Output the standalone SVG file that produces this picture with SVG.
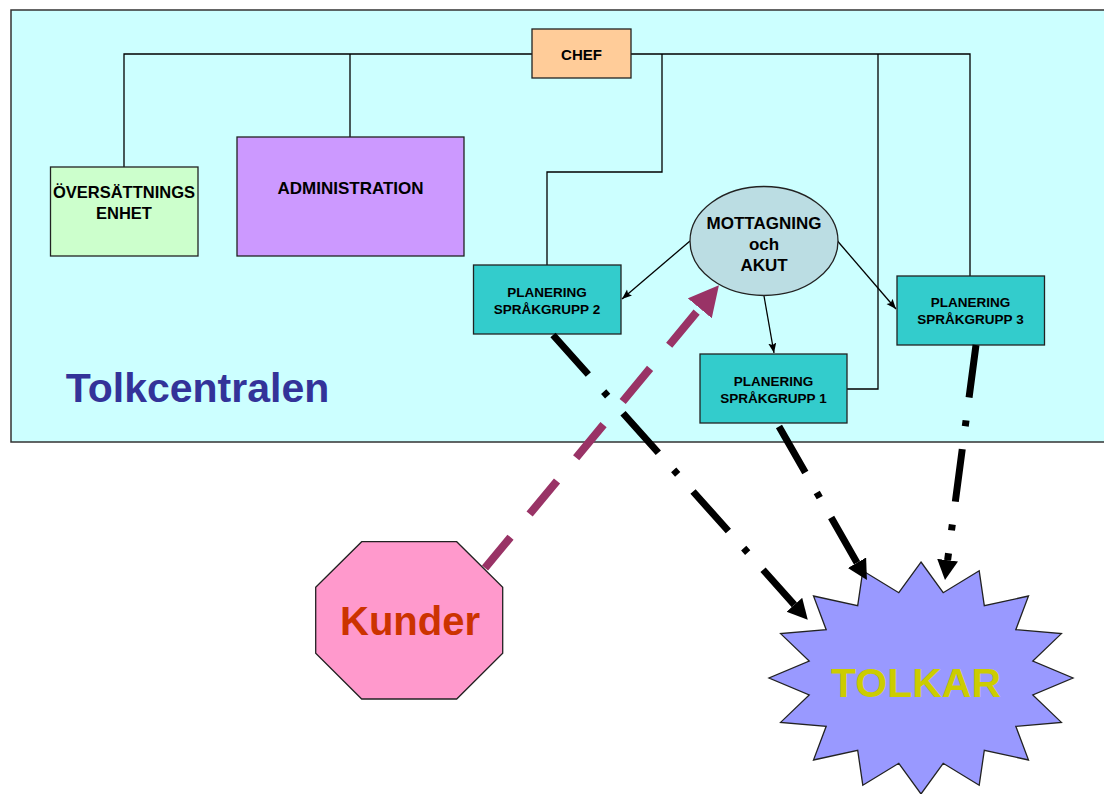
<svg xmlns="http://www.w3.org/2000/svg" width="1104" height="794" viewBox="0 0 1104 794">
<style>
text{font-family:"Liberation Sans",Arial,sans-serif;font-weight:bold;text-anchor:middle;fill:#000}
.box{stroke:#222;stroke-width:1.3}
.org{fill:none;stroke:#000;stroke-width:1.3}
.thin{fill:none;stroke:#000;stroke-width:1.3}
.dd{fill:none;stroke:#000;stroke-width:7;stroke-dasharray:53 23 6 23}
.sg{fill:#33CCCC}
.sgt{font-size:13.5px}
</style>
<defs>
<marker id="ah" markerUnits="userSpaceOnUse" markerWidth="11" markerHeight="9" refX="10" refY="4" orient="auto"><path d="M0,0 L10,4 L0,8 L2,4 z" fill="#000"/></marker>
<marker id="big" markerUnits="userSpaceOnUse" markerWidth="21" markerHeight="22" refX="0" refY="10.5" orient="auto"><path d="M0,0 L20,10.5 L0,21 z" fill="#000"/></marker>
<marker id="mag" markerUnits="userSpaceOnUse" markerWidth="31" markerHeight="32" refX="0" refY="15.5" orient="auto"><path d="M0,0 L30,15.5 L0,31 z" fill="#993366"/></marker>
</defs>
<rect width="1104" height="794" fill="#fff"/>
<g id="tolkcentralen">
<rect x="11" y="10" width="1100" height="432" fill="#CCFFFF" stroke="#333" stroke-width="1.5"/>
<text x="197.5" y="402" style="font-size:41px;fill:#333399">Tolkcentralen</text>
</g>
<g id="connectors">
<path class="org" d="M124,167 V54 H532"/>
<path class="org" d="M350,137 V54"/>
<path class="org" d="M631,54 H970 V276"/>
<path class="org" d="M662,54 V172 H547 V265"/>
<path class="org" d="M878,54 V389 H847"/>
<path class="thin" d="M690,241 L622,299" marker-end="url(#ah)"/>
<path class="thin" d="M764,296 L774,353" marker-end="url(#ah)"/>
<path class="thin" d="M837.5,241 L896,309" marker-end="url(#ah)"/>
</g>
<g id="chef"><rect class="box" x="532" y="29" width="99" height="49" fill="#FFCC99"/><text x="581.5" y="59.5" style="font-size:15px">CHEF</text></g>
<g id="oversattning"><rect class="box" x="50.5" y="167" width="147.5" height="89" fill="#CCFFCC"/><text x="124" y="198" style="font-size:16.5px">ÖVERSÄTTNINGS</text><text x="124" y="219" style="font-size:16.5px">ENHET</text></g>
<g id="administration"><rect class="box" x="237" y="137" width="227" height="119" fill="#CC99FF"/><text x="350.5" y="194" style="font-size:17px">ADMINISTRATION</text></g>
<g id="mottagning"><ellipse class="box" cx="764" cy="241" rx="74" ry="54.5" fill="#BBDDE3"/><text x="764" y="229" style="font-size:17px">MOTTAGNING</text><text x="764" y="250" style="font-size:17px">och</text><text x="764" y="271" style="font-size:17px">AKUT</text></g>
<g id="sg2"><rect class="box sg" x="473.5" y="265" width="147.5" height="69"/><text class="sgt" x="547" y="296.5">PLANERING</text><text class="sgt" x="547" y="313.5">SPRÅKGRUPP 2</text></g>
<g id="sg1"><rect class="box sg" x="700" y="354" width="147" height="69"/><text class="sgt" x="773.5" y="385.5">PLANERING</text><text class="sgt" x="773.5" y="402.5">SPRÅKGRUPP 1</text></g>
<g id="sg3"><rect class="box sg" x="897" y="276" width="147.5" height="69"/><text class="sgt" x="970.5" y="307">PLANERING</text><text class="sgt" x="970.5" y="324">SPRÅKGRUPP 3</text></g>
<g id="kunder"><polygon class="box" points="315.7,587.3 361.7,541.7 456.7,541.7 502.7,587.3 502.7,653.3 456.7,699 361.7,699 315.7,653.3" fill="#FF99CC"/><text x="410" y="635" style="font-size:40px;fill:#CC3300">Kunder</text></g>
<g id="tolkar"><polygon class="box" fill="#9999FF" points="921,562 943.2,592.7 979.2,570.8 984.3,605.7 1028.5,596 1015.8,629.7 1061.4,633.6 1032.8,661 1073,678 1032.8,695 1061.4,722.4 1015.8,726.3 1028.5,760 984.3,750.3 979.2,785.2 943.2,763.3 921,794 898.8,763.3 862.8,785.2 857.7,750.3 813.5,760 826.2,726.3 780.6,722.4 809.2,695 769,678 809.2,661 780.6,633.6 826.2,629.7 813.5,596 857.7,605.7 862.8,570.8 898.8,592.7"/><text x="916" y="697" style="font-size:41px;fill:#CCCC00">TOLKAR</text></g>
<g id="flows">
<path class="dd" d="M553,335 L794.4,604.8" marker-end="url(#big)"/>
<path class="dd" d="M777,423 L857,562.7" stroke-dashoffset="-4" marker-end="url(#big)"/>
<path class="dd" d="M976,345 L947.6,560.2" marker-end="url(#big)"/>
<path d="M485,568 L699.8,308.3" fill="none" stroke="#993366" stroke-width="8" stroke-dasharray="43 30" stroke-dashoffset="3" marker-end="url(#mag)"/>
</g>
</svg>
